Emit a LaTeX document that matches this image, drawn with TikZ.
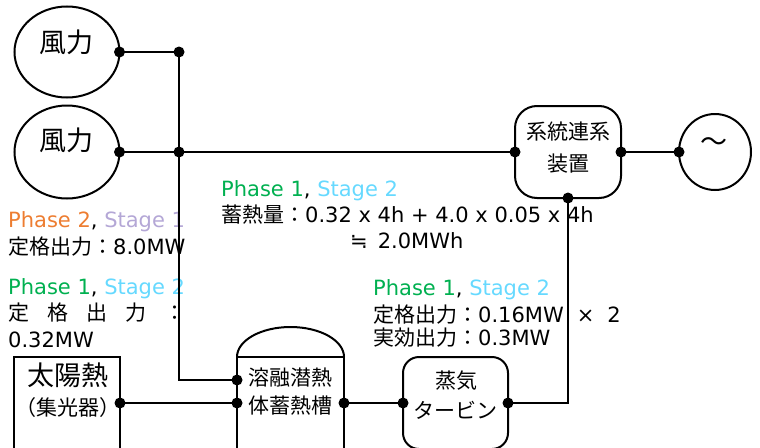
\documentclass[tikz,border=0pt]{standalone}
\usepackage{fontspec}
\setmainfont{DejaVu Sans}
\newfontfamily\jp{Noto Sans CJK JP}
\usetikzlibrary{shapes.geometric}
\definecolor{pgreen}{HTML}{00B050}
\definecolor{scyan}{HTML}{66D9FF}
\definecolor{porange}{HTML}{ED7D31}
\definecolor{slav}{HTML}{B4A7D6}
\begin{document}
\begin{tikzpicture}[x=1pt,y=-1pt,
  wire/.style={line width=2.6pt},
  box/.style={draw, line width=2pt, inner sep=0pt, outer sep=0pt},
  lbl/.style={inner sep=0pt, font=\jp\fontsize{21}{21}\selectfont},
  biglbl/.style={inner sep=0pt, font=\jp\fontsize{27}{27}\selectfont},
  info/.style={anchor=base west, inner sep=0pt, font=\fontsize{21}{21}\selectfont}]
\useasboundingbox (0,0) rectangle (760,447);

% shapes
\node[box, ellipse, minimum width=105pt, minimum height=91pt] (wind1) at (67,52) {};
\node[box, ellipse, minimum width=105pt, minimum height=93pt] (wind2) at (67,152) {};
\node[box, rectangle, rounded corners=22pt, minimum width=106pt, minimum height=92pt] (grid) at (568,152) {};
\node[box, ellipse, minimum width=72pt, minimum height=76pt] (ac) at (715,152) {};
\node[box, rectangle, minimum width=106pt, minimum height=92pt] (solar) at (67,403) {};
\node[box, rectangle, minimum width=107pt, minimum height=92pt] (tank) at (290.5,403) {};
\draw[line width=2pt] (tank.north west) arc[start angle=180, end angle=0, x radius=53.5pt, y radius=30pt];
\node[box, rectangle, rounded corners=16pt, minimum width=105pt, minimum height=92pt] (turb) at (455.5,403) {};

% labels in shapes
\node[biglbl] (w1t) at (66,42) {風力};
\node[biglbl] (w2t) at (66,140) {風力};
\node[lbl] (g1t) at (568,132) {系統連系};
\node[lbl] (g2t) at (568,164) {装置};
\node[biglbl] (act) at (714,145) {〜};
\node[biglbl] (s1t) at (68,375) {太陽熱};
\node[lbl] (s2t) at (68,408) {（集光器）};
\node[lbl] (k1t) at (290,378) {溶融潜熱};
\node[lbl] (k2t) at (290,406) {体蓄熱槽};
\node[lbl] (b1t) at (456,381) {蒸気};
\node[lbl] (b2t) at (455,410) {タービン};

% info texts
\node[info] (t1) at (8,227) {\textcolor{porange}{Phase 2}, \textcolor{slav}{Stage 1}};
\node[info] (t2) at (8,254) {{\jp 定格出力：}8.0MW};
\node[info] (t3) at (8,294) {\textcolor{pgreen}{Phase 1}, \textcolor{scyan}{Stage 2}};
\node[info] (t4) at (8,320) {\jp\makebox[177pt][l]{定\hfill 格\hfill 出\hfill 力\hfill ：}};
\node[info] (t5) at (8,347) {0.32MW};
\node[info] (m1) at (221,196) {\textcolor{pgreen}{Phase 1}, \textcolor{scyan}{Stage 2}};
\node[info] (m2) at (221,222) {{\jp 蓄熱量：}0.32 x 4h + 4.0 x 0.05 x 4h};
\node[info] (m3) at (350,248) {≒\hspace{10pt}2.0MWh};
\node[info] (r1) at (373,295) {\textcolor{pgreen}{Phase 1}, \textcolor{scyan}{Stage 2}};
\node[info] (r2) at (373,322) {{\jp 定格出力：}0.16MW\hspace{13pt}×\hspace{13pt}2};
\node[info] (r3) at (373,345) {{\jp 実効出力：}0.3MW};

% connectors
\coordinate (j1) at (179,52);
\coordinate (j2) at (179,152);
\coordinate (j3) at (179,380);
\draw[wire] (wind1.east) -- (j1) -- (j3) -- (j3 -| tank.west);
\draw[wire] (wind2.east) -- (j2) -- (grid.west);
\draw[wire] (grid.east) -- (ac.west);
\draw[wire] (grid.south) -- (grid.south |- turb.east) -- (turb.east);
\draw[wire] (solar.east) -- (tank.west);
\draw[wire] (tank.east) -- (turb.west);

% dots
\foreach \p in {wind1.east, wind2.east, j1, j2, grid.west, grid.east, grid.south, ac.west, solar.east, tank.west, tank.east, turb.west, turb.east}
  \fill (\p) circle (5.5pt);
\fill (j3 -| tank.west) circle (5.5pt);
\end{tikzpicture}
\end{document}
